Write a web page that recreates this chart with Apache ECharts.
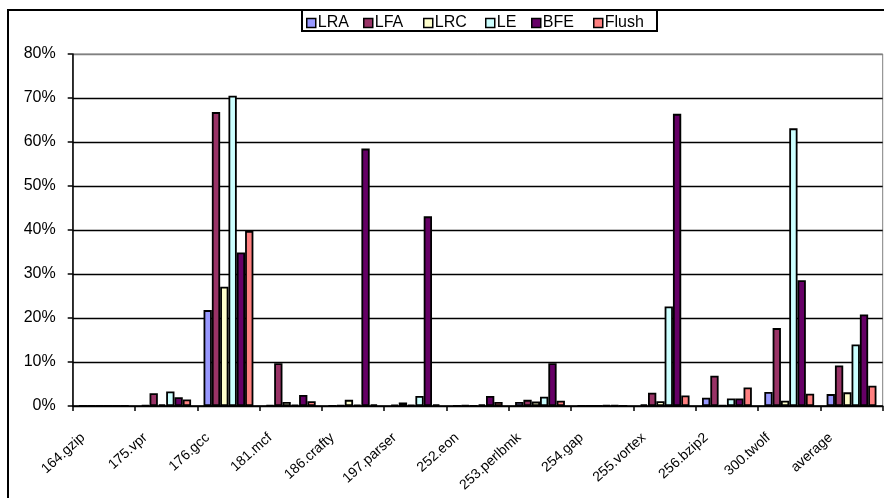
<!DOCTYPE html>
<html>
<head>
<meta charset="utf-8">
<script src="https://cdn.jsdelivr.net/npm/echarts@6/dist/echarts.min.js"></script>
<style>
  html, body { margin: 0; padding: 0; background: #fff; }
  #chart { width: 884px; height: 498px; }
</style>
</head>
<body>
<div id="chart"></div>
<script>
// Benchmarks on the category axis
const categories = ['164.gzip', '175.vpr', '176.gcc', '181.mcf', '186.crafty', '197.parser',
  '252.eon', '253.perlbmk', '254.gap', '255.vortex', '256.bzip2', '300.twolf', 'average'];

// Percent values per scheme
const LRA   = [0, 0.2, 21.8, 0.2, 0.1, 0.3, 0.1, 0.9, 0, 0.4, 1.9, 3.2, 2.7];
const LFA   = [0, 2.9, 66.8, 9.7, 0.2, 0.8, 0.2, 1.4, 0, 3.0, 6.9, 17.7, 9.2];
const LRC   = [0, 0.4, 27.1, 0.9, 1.4, 0.3, 0.1, 1.0, 0, 1.1, 0.2, 1.2, 3.1];
const LE    = [0, 3.3, 70.5, 0.3, 0.3, 2.3, 0.4, 2.1, 0.2, 22.6, 1.7, 63.1, 14.0];
const BFE   = [0, 2.0, 34.9, 2.5, 58.5, 43.1, 2.3, 9.7, 0.2, 66.4, 1.7, 28.6, 20.8];
const Flush = [0, 1.5, 39.8, 1.1, 0.4, 0.4, 0.9, 1.2, 0, 2.4, 4.2, 2.8, 4.6];

// Y axis ticks (percent)
const yTicks = [0, 10, 20, 30, 40, 50, 60, 70, 80];

const seriesDefs = [
  { name: 'LRA',   data: LRA,   color: '#9999FF' },
  { name: 'LFA',   data: LFA,   color: '#993366' },
  { name: 'LRC',   data: LRC,   color: '#FFFFCC' },
  { name: 'LE',    data: LE,    color: '#CCFFFF' },
  { name: 'BFE',   data: BFE,   color: '#660066' },
  { name: 'Flush', data: Flush, color: '#FF8080' }
];

const legendLeft = [306, 363, 423, 485, 531, 593];
const font = '"Liberation Sans", Arial, sans-serif';

const chart = echarts.init(document.getElementById('chart'), null, { renderer: 'canvas' });

const option = {
  animation: false,
  backgroundColor: '#fff',
  textStyle: { fontFamily: font },
  graphic: [
    { type: 'rect', z: -10, silent: true,
      shape: { x: 8, y: 10, width: 1000, height: 600 },
      style: { fill: '#fff', stroke: '#000', lineWidth: 2 } },
    { type: 'rect', z: 100, silent: true,
      shape: { x: 302, y: 10, width: 355, height: 21 },
      style: { fill: '#fff', stroke: '#000', lineWidth: 2 } }
  ],
  legend: seriesDefs.map((s, i) => ({
    data: [s.name],
    left: legendLeft[i],
    top: 15,
    padding: 0,
    z: 200,
    icon: 'rect',
    itemWidth: 9,
    itemHeight: 9,
    itemStyle: { borderColor: '#000', borderWidth: 1.5 },
    textStyle: { fontSize: 16, color: '#000', fontFamily: font, padding: [0, 0, 0, -3] }
  })),
  grid: {
    left: 72.7, right: 1.3, top: 54, bottom: 92,
    show: true, borderColor: '#808080', borderWidth: 1, backgroundColor: '#fff'
  },
  xAxis: {
    type: 'category',
    data: categories,
    axisLine: { lineStyle: { color: '#000', width: 1.5 } },
    axisTick: { show: true, length: 5, lineStyle: { color: '#000', width: 1.5 } },
    axisLabel: {
      rotate: 42, interval: 0, fontSize: 14, color: '#000', fontFamily: font,
      margin: 11, padding: [0, 28, 0, 0]
    }
  },
  yAxis: {
    type: 'value',
    min: yTicks[0], max: yTicks[yTicks.length - 1], interval: 10,
    axisLine: { show: true, lineStyle: { color: '#000', width: 1.5 } },
    axisTick: { show: true, length: 5, lineStyle: { color: '#000', width: 1.5 } },
    axisLabel: { formatter: '{value}%', fontSize: 16, color: '#000', fontFamily: font, margin: 17 },
    splitLine: { show: true, lineStyle: { color: ['#000', '#000', '#000', '#000', '#000', '#000', '#000', '#000', '#808080'], width: 1.3 } }
  },
  series: seriesDefs.map(s => ({
    name: s.name,
    type: 'bar',
    data: s.data,
    barGap: '0%',
    barCategoryGap: '20%',
    itemStyle: { color: s.color, borderColor: '#000', borderWidth: 1.8 }
  }))
};

chart.setOption(option);
</script>
</body>
</html>
